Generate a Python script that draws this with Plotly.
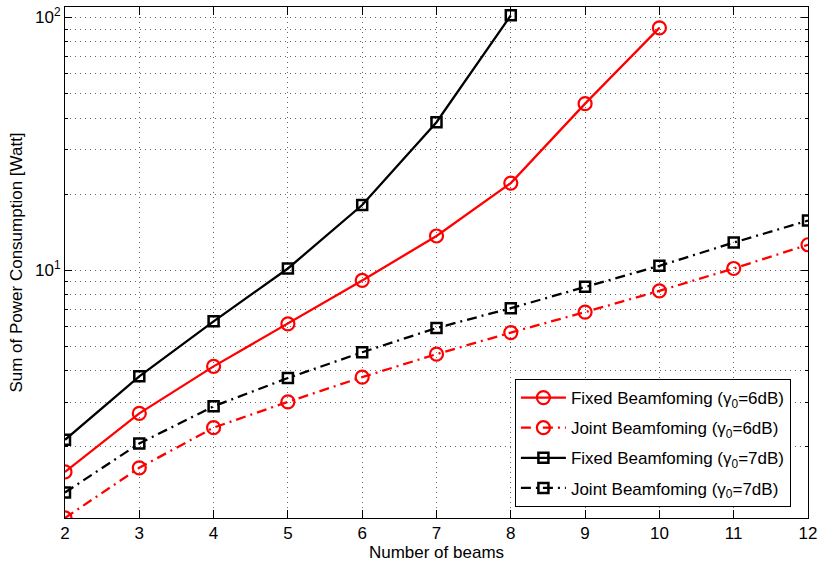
import plotly.graph_objects as go

beams = [2, 3, 4, 5, 6, 7, 8, 9, 10, 11, 12]

fixed_6db = [1.59, 2.71, 4.16, 6.13, 9.1, 13.65, 22.1, 45.6, 90.9]
joint_6db = [1.045, 1.65, 2.38, 3.01, 3.77, 4.65, 5.66, 6.82, 8.28, 10.15, 12.6]
fixed_7db = [2.13, 3.80, 6.27, 10.15, 18.1, 38.5, 102]
joint_7db = [1.318, 2.06, 2.89, 3.74, 4.73, 5.9, 7.07, 8.6, 10.4, 12.85, 15.7]

names = [
    "Fixed Beamfoming (γ<sub>0</sub>=6dB)",
    "Joint Beamfoming (γ<sub>0</sub>=6dB)",
    "Fixed Beamfoming (γ<sub>0</sub>=7dB)",
    "Joint Beamfoming (γ<sub>0</sub>=7dB)",
]

y_major = [10, 100]
y_major_text = ["10<sup>1</sup>", "10<sup>2</sup>"]
y_minor = [2, 3, 4, 5, 6, 7, 8, 9, 20, 30, 40, 50, 60, 70, 80, 90]

FONT = "Liberation Sans, Arial, Helvetica, sans-serif"
DASHDOT = "10px,5px,2px,5px"
LW = 2.3

fig = go.Figure()
fig.add_trace(go.Scatter(
    x=beams[:len(fixed_6db)], y=fixed_6db, name=names[0], mode="lines+markers", legendgroup="a",
    line=dict(color="#ff0000", width=LW),
    marker=dict(symbol="circle-open", size=13, color="#ff0000", line=dict(width=2.2, color="#ff0000")),
))
fig.add_trace(go.Scatter(
    x=beams[:len(joint_6db)], y=joint_6db, name=names[1], mode="lines+markers", legendgroup="b",
    line=dict(color="#ff0000", width=LW, dash=DASHDOT),
    marker=dict(symbol="circle-open", size=13, color="#ff0000", line=dict(width=2.2, color="#ff0000")),
))
fig.add_trace(go.Scatter(
    x=beams[:len(fixed_7db)], y=fixed_7db, name=names[2], mode="lines+markers", legendgroup="c",
    line=dict(color="#000000", width=LW),
    marker=dict(symbol="square-open", size=10, color="#000000", line=dict(width=2.5, color="#000000")),
))
fig.add_trace(go.Scatter(
    x=beams[:len(joint_7db)], y=joint_7db, name=names[3], mode="lines+markers", legendgroup="d",
    line=dict(color="#000000", width=LW, dash=DASHDOT),
    marker=dict(symbol="square-open", size=10, color="#000000", line=dict(width=2.5, color="#000000")),
))

grid = dict(showgrid=True, gridcolor="#666666", gridwidth=1, griddash="1px,4px")

fig.update_layout(
    width=822, height=566,
    margin=dict(l=65, r=11, t=5, b=48),
    paper_bgcolor="white", plot_bgcolor="white",
    font=dict(family=FONT, size=17, color="black"),
    showlegend=True,
    legend=dict(
        x=0.977, y=0.0214, xanchor="right", yanchor="bottom",
        bgcolor="white", bordercolor="black", borderwidth=1,
        font=dict(family=FONT, size=17, color="black"),
        itemwidth=45, tracegroupgap=5,
    ),
    xaxis=dict(
        range=[2, 12], tickmode="array", tickvals=beams,
        ticks="inside", ticklen=8, tickcolor="black",
        showline=True, linecolor="black", linewidth=1, mirror="ticks",
        zeroline=False,
        title=dict(text="Number of beams", font=dict(size=17), standoff=2),
        tickfont=dict(size=17),
        **grid,
    ),
    yaxis=dict(
        type="log", range=[0.0189, 2.0414],
        tickmode="array", tickvals=y_major, ticktext=y_major_text,
        ticks="inside", ticklen=7, tickcolor="black",
        showline=True, linecolor="black", linewidth=1, mirror="ticks",
        zeroline=False,
        title=dict(text="Sum of Power Consumption [Watt]", font=dict(size=17), standoff=8),
        tickfont=dict(size=17),
        minor=dict(tickmode="array", tickvals=y_minor, ticks="inside", ticklen=3,
                   tickcolor="black", showgrid=True, gridcolor="#666666",
                   gridwidth=1, griddash="1px,4px"),
        **grid,
    ),
)

fig.write_html(
    "out.html",
    config={"displayModeBar": False},
    post_script="document.body.style.margin='0';document.body.style.overflow='hidden';",
)
